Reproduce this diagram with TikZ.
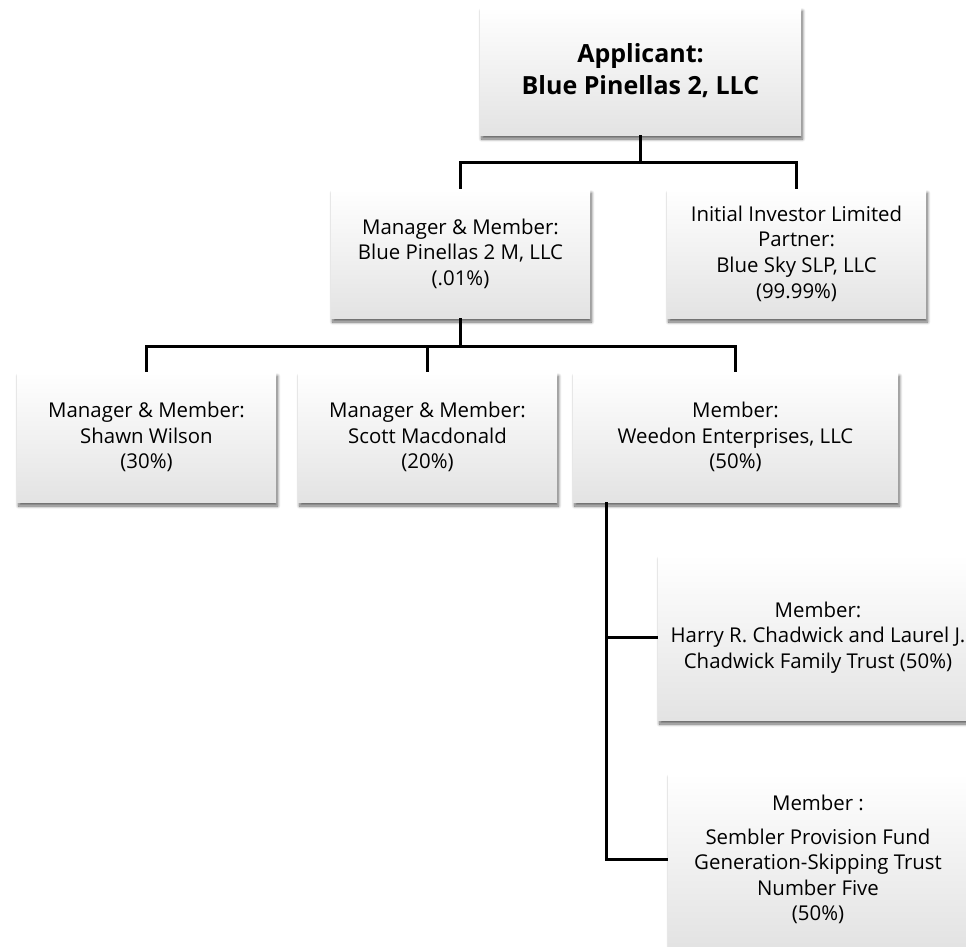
\documentclass[tikz,border=0pt]{standalone}
\usepackage{fontspec}
\setmainfont{Open Sans}
\usepackage{tikz}
\usetikzlibrary{shadows.blur}
\usepackage{xcolor}

\begin{document}
\begin{tikzpicture}[x=1pt,y=1pt,thick,
  box/.style={inner sep=0pt,align=center,font=\fontsize{20.4}{25.6}\selectfont,
    top color=white,middle color=black!1,bottom color=black!11,
    blur shadow={shadow xshift=1.5pt,shadow yshift=-4pt,shadow blur radius=3pt,shadow blur steps=8,shadow opacity=60}},
  link/.style={line width=2.6pt,black}]

\useasboundingbox (0,0) rectangle (966,-946);

\draw (640.5,-71) node[box,minimum width=321,minimum height=128,font=\bfseries\fontsize{25}{32}\selectfont] (app) {Applicant:\\Blue Pinellas 2, LLC};

\draw (460.5,-253.5) node[box,minimum width=259,minimum height=129] (mgr) {Manager \& Member:\\Blue Pinellas 2 M, LLC\\(.01\%)};
\draw (796.5,-253.5) node[box,minimum width=259,minimum height=129] (inv) {Initial Investor Limited\\Partner:\\Blue Sky SLP, LLC\\(99.99\%)};

\foreach [count=\i] \x/\w/\t in {146.5/259/{Manager \& Member:\\Shawn Wilson\\(30\%)}, 427.5/259/{Manager \& Member:\\Scott Macdonald\\(20\%)}, 735.5/325/{Member:\\Weedon Enterprises, LLC\\(50\%)}}
\draw (\x,-437) node[box,minimum width=\w,minimum height=130] (m\i) {\t};

\draw (818,-637.5) node[box,minimum width=320,minimum height=165] (t1) {Member:\\Harry R. Chadwick and Laurel J.\\Chadwick Family Trust (50\%)};
\draw (818,-859.5) node[box,minimum width=300,minimum height=173] (t2) {Member :\\[8pt]Sembler Provision Fund\\Generation-Skipping Trust\\Number Five\\(50\%)};

% connectors
\draw [link] (app.south) -- ++(0,-27) coordinate (j1);
\draw [link] (mgr.north) |- (j1) -| (inv.north);
\draw [link] (mgr.south) -- ++(0,-28) coordinate (j2);
\draw [link] (m1.north) |- (j2) -| (m3.north);
\draw [link] (m2.north) -- (m2.north |- j2);
\draw [link] ([xshift=34pt]m3.south west) coordinate (w) |- (t1.west);
\draw [link] (w) |- (t2.west);

\end{tikzpicture}
\end{document}
